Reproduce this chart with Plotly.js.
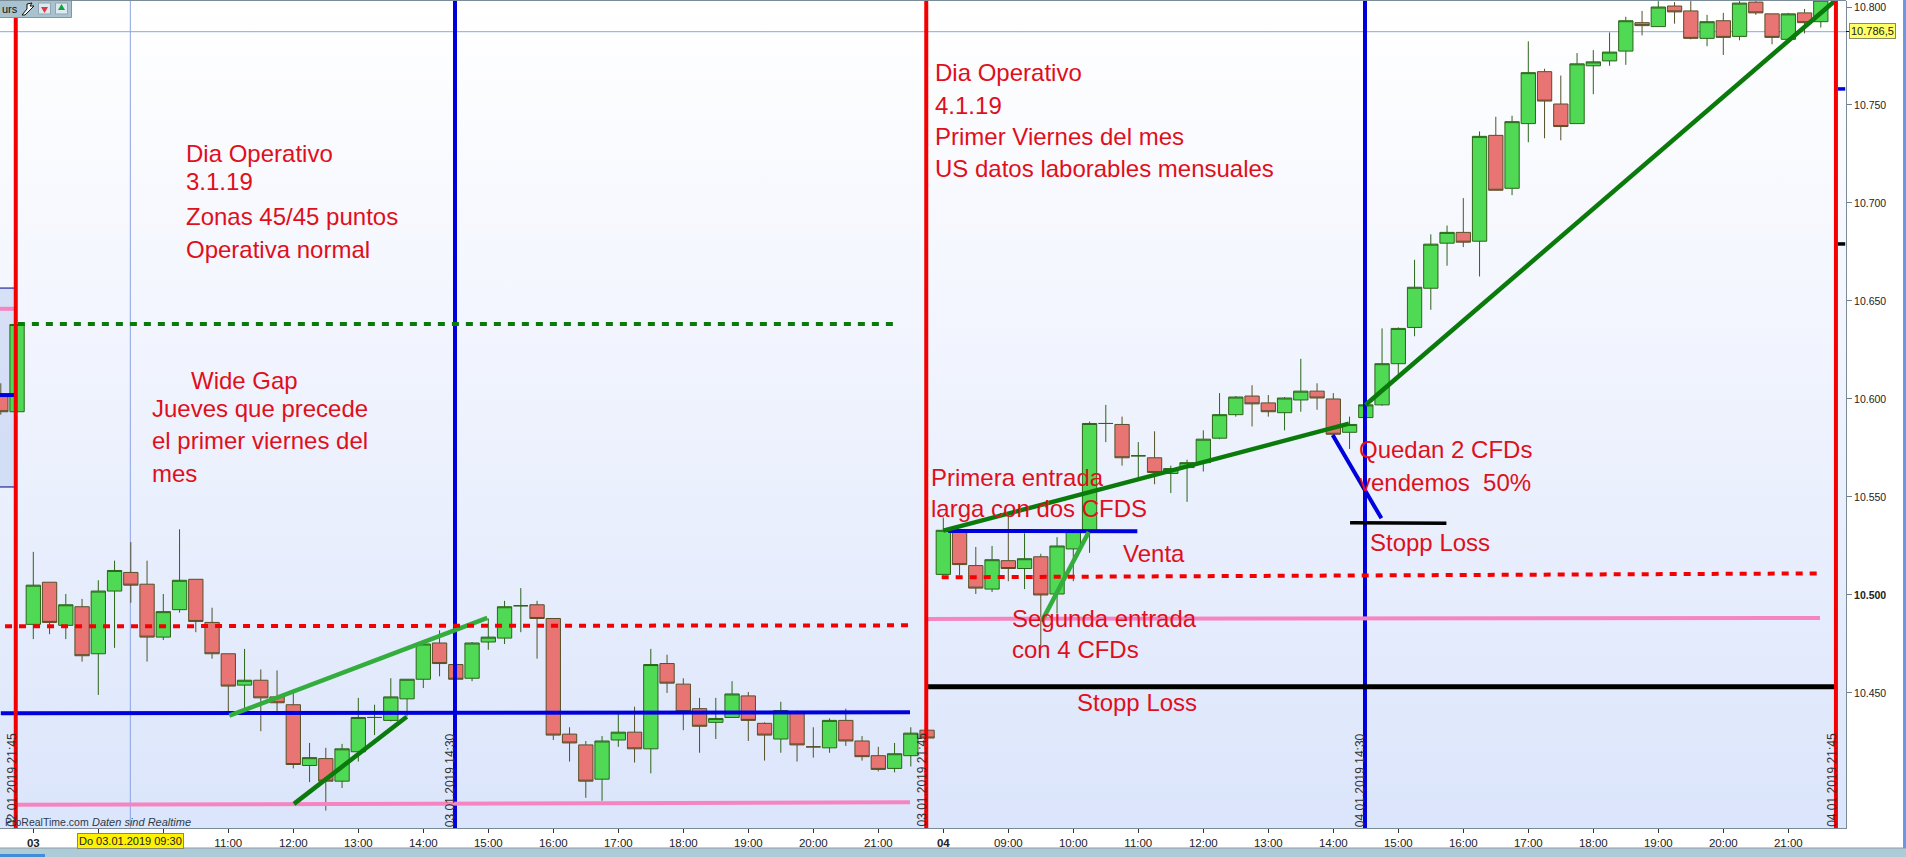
<!DOCTYPE html>
<html>
<head>
<meta charset="utf-8">
<script src="https://cdn.plot.ly/plotly-3.0.1.min.js"></script>
<style>
html,body{margin:0;padding:0;width:1906px;height:857px;overflow:hidden;background:#fff}
#bg{position:absolute;left:0;top:1px;width:1846px;height:827px;background:linear-gradient(#ffffff 0%,#f2f5fe 40%,#dbe5fb 100%)}
#chart{position:absolute;left:0;top:0;width:1906px;height:857px}
</style>
</head>
<body>
<div id="bg"></div>
<div id="chart"></div>
<script>
// 15-minute bars: the first two belong to 02.01.2019, then 03.01.2019 and 04.01.2019
const opens = [10602,10593.5,
 10485,10506.5,10484.5,10494,10470,10502,10511.5,10505.5,10478.5,10492.5,
 10508,10486,10470,10454,10456.5,10448,10444,10413,10416.5,10405,
 10420,10437.5,10436,10447,10457,10475.5,10464.5,10457.5,10476,10478,
 10494.5,10495,10488,10429,10423.5,10406,10426,10430,10421.5,10465,
 10454.5,10442,10435,10437.5,10448.5,10434.5,10426.5,10440,10422.5,10422,
 10436,10425.5,10418,10411.5,10418,10431,
 10510.5,10532.5,10515,10503,10517.5,10513.5,10519.5,10500.5,10523.5,10533,
 10587.5,10587,10571,10570,10562,10565,10567.5,10580,10592,10601.5,
 10598,10593,10599.5,10604,10600,10583,10590.5,10597,10618,10636.5,
 10656.5,10679.5,10685,10680.5,10734.5,10707.5,10740.5,10767,10750.5,10740.5,
 10770,10772.5,10777.5,10792,10790,10800.5,10798,10784,10793,10785,
 10802.5,10796.5,10783.5,10797,10792.5];
const highs = [10608,10638,
 10522,10506.5,10500.5,10498,10507.5,10517.5,10527,10517.5,10500.5,10533.5,
 10508,10493.5,10470,10472.5,10462,10461.5,10450,10424.5,10422,10424,
 10447.5,10444,10457.5,10457,10475,10482,10465,10476,10488,10497,
 10503.5,10497,10488,10432.5,10425.5,10428,10439.5,10443,10472.5,10469.5,
 10457.5,10447.5,10447.5,10456,10450.5,10435,10445.5,10441,10432.5,10437,
 10442,10428,10422.5,10424.5,10432.5,10431,
 10539.5,10533,10524.5,10525,10541.5,10531.5,10521,10529.5,10533,10588.5,
 10597,10591,10578,10583.5,10566,10569,10584,10603,10601.5,10607,
 10602,10601,10620.5,10608,10603,10591,10597,10636,10636.5,10671,
 10684,10688.5,10702.5,10736.5,10744,10744.5,10782.5,10768.5,10765,10776.5,
 10778,10787,10795,10798,10803,10802.5,10803,10796,10797,10803,
 10803,10796.5,10797,10799,10803.5];
const lows = [10592,10593.5,
 10477.5,10480,10477.5,10466,10449,10473,10496,10466,10477,10491,
 10481,10467.5,10439,10439.5,10430.5,10440.5,10411.5,10404.5,10390,10401.5,
 10415,10428.5,10435.5,10438,10452.5,10458.5,10456.5,10456,10472,10475,
 10481,10467.5,10426,10415,10396.5,10395,10422.5,10414.5,10409,10450,
 10431,10419.5,10426.5,10437.5,10425.5,10415.5,10419.5,10415,10417,10419.5,
 10423,10415.5,10410,10409.5,10412.5,10427,
 10510,10510,10500.5,10501.5,10507,10503,10473.5,10490.5,10507,10521.5,
 10578,10566,10560,10556.5,10552,10547.5,10563,10579.5,10591,10586,
 10591,10584,10593.5,10594.5,10581.5,10574.5,10590.5,10596.5,10612,10632,
 10645.5,10668,10677.5,10662.5,10706.5,10704,10731,10733,10732,10740.5,
 10755.5,10770,10770.5,10785.5,10790,10791.5,10783.5,10780,10775.5,10783,
 10796,10781,10783.5,10786.5,10789.5];
const closes = [10593.5,10638,
 10505,10486,10495,10469,10502,10512.5,10505,10478.5,10491.5,10507.5,
 10486.5,10470,10453.5,10456.5,10447.5,10445,10413.5,10417,10405,10421.5,
 10437.5,10437.5,10448,10457,10475,10465,10457,10475.5,10478.5,10494,
 10494.5,10488,10428.5,10424.5,10405,10425.5,10430,10421.5,10464.5,10455,
 10440.5,10433,10437,10449.5,10436,10428.5,10441,10423.5,10422.5,10436,
 10425.5,10417.5,10411,10419,10429.5,10427,
 10533,10515.5,10503.5,10518,10513.5,10518.5,10500,10525,10532.5,10587.5,
 10587.5,10570,10571,10562.5,10564.5,10567.5,10579.5,10592,10601,10597.5,
 10593.5,10600.5,10604,10600.5,10582,10587,10597,10618,10636,10657,
 10679,10685,10680,10734,10706.5,10741.5,10766.5,10752,10739,10771,
 10772,10777,10793,10790.5,10800,10797.5,10784,10792.5,10784.5,10802,
 10797,10784.5,10796.5,10792,10803.5];
const barIndex = opens.map((_, i) => i - 2);

const priceTicks = [10450,10500,10550,10600,10650,10700,10750,10800];
const priceLabels = ['10.450','<b>10.500</b>','10.550','10.600','10.650','10.700','10.750','10.800'];
const timeTicks = [0,4,8,12,16,20,24,28,32,36,40,44,48,52,56,60,64,68,72,76,80,84,88,92,96,100,104,108];
const timeLabels = ['<b>03</b>','','','11:00','12:00','13:00','14:00','15:00','16:00','17:00','18:00','19:00','20:00','21:00',
 '<b>04</b>','09:00','10:00','11:00','12:00','13:00','14:00','15:00','16:00','17:00','18:00','19:00','20:00','21:00'];

// drawn levels and trend lines: [bar0, price0, bar1, price1, colour, width]
const RED='#f50000', BLUE='#0000dc', PINK='#f585c0', BLACK='#000000', DKGREEN='#0a7a0a', LTGREEN='#33ad3c';
const solidLines = [
 [-1.07,10392.9,53.95,10394.2,PINK,4],
 [54.94,10487.8,109.95,10488.3,PINK,4],
 [-2.05,10646,-1.08,10646,PINK,4],
 [-2,10439.6,53.95,10440.1,BLUE,4],
 [-2.05,10602,-1.08,10602,BLUE,4],
 [56.3,10532.7,67.94,10532.5,BLUE,4],
 [79.96,10581.6,82.96,10539.1,BLUE,4],
 [54.94,10453.2,110.9,10453.2,BLACK,5],
 [81.03,10536.9,86.96,10536.6,BLACK,3.5],
 [12.06,10438.4,27.94,10488.3,LTGREEN,4.5],
 [62.05,10486.4,64.95,10532.1,LTGREEN,4.5],
 [16.04,10393.4,22.98,10437.9,DKGREEN,4.5],
 [56,10532.8,80.96,10587.4,DKGREEN,4.5],
 [81.97,10596.9,110.93,10803.6,DKGREEN,4.5],
 [111.05,10758.2,111.5,10758.2,BLUE,3.5],
 [111.05,10679.1,111.5,10679.1,BLACK,3.5]
];
const dashedLines = [
 [-0.95,10638.3,52.9,10638.3,DKGREEN],
 [-1.74,10484,53.87,10484.5,RED],
 [55.9,10509,109.82,10511,RED]
];
const redColumns = [-1.08,54.95,110.93];
const blueColumns = [25.95,81.95];
const crossBar = 5.97, crossPrice = 10787.4;

const dateStamps = [['02.01.2019 21:45',-1.32],['03.01.2019 14:30',25.65],['03.01.2019 21:45',54.66],['04.01.2019 14:30',81.65],['04.01.2019 21:45',110.68]];

// chart comments: [text, left pixel, centre pixel]
const comments = [
 ['Dia Operativo',185,153],['3.1.19',185,182],['Zonas 45/45 puntos',185,216],['Operativa normal',185,249],
 ['Wide Gap',190,380],['Jueves que precede',151,408],['el primer viernes del',151,440],['mes',151,473],
 ['Dia Operativo',934,73],['4.1.19',934,105],['Primer Viernes del mes',934,137],['US datos laborables mensuales',934,169],
 ['Primera entrada',930,477],['larga con dos CFDS',930,508],['Venta',1122,553],
 ['Segunda entrada',1011,618],['con 4 CFDs',1011,649],
 ['Quedan 2 CFDs',1358,450],['vendemos\u00a0 50%',1358,482],['Stopp Loss',1369,542],['Stopp Loss',1076,702]
];

const W=1906,H=857,PW=1846,PH=827,PT=1;
const px = x => x/PW;
const py = y => 1-(y-PT)/PH;
const FONT='"Liberation Sans",Arial,sans-serif';

const shapes = [];
shapes.push({type:'rect',layer:'below',xref:'x',yref:'y',x0:-3,x1:-1.08,y0:10555.1,y1:10656.6,fillcolor:'rgba(180,198,238,0.45)',line:{color:'#00008c',width:1}});
shapes.push({type:'line',layer:'below',xref:'x',yref:'paper',x0:crossBar,x1:crossBar,y0:0,y1:1,line:{color:'#8aa4e4',width:1}});
shapes.push({type:'line',layer:'below',xref:'paper',yref:'y',x0:0,x1:1,y0:crossPrice,y1:crossPrice,line:{color:'#8aa4e4',width:1}});
for(const b of blueColumns) shapes.push({type:'line',xref:'x',yref:'paper',x0:b,x1:b,y0:0,y1:1,line:{color:BLUE,width:4}});
for(const l of solidLines) shapes.push({type:'line',xref:'x',yref:'y',x0:l[0],y0:l[1],x1:l[2],y1:l[3],line:{color:l[4],width:l[5]}});
for(const l of dashedLines) shapes.push({type:'line',xref:'x',yref:'y',x0:l[0],y0:l[1],x1:l[2],y1:l[3],line:{color:l[4],width:4,dash:'7px,7px'}});
for(const b of redColumns) shapes.push({type:'line',xref:'x',yref:'paper',x0:b,x1:b,y0:0,y1:1,line:{color:RED,width:4}});
const pxRect=(x0,y0,x1,y1,fill,lineColor)=>({type:'rect',xref:'paper',yref:'paper',x0:px(x0),x1:px(x1),y0:py(y1),y1:py(y0),fillcolor:fill,line:{color:lineColor||fill,width:lineColor?1:0}});
// tool buttons top-left
shapes.push(pxRect(-2,-2,71.5,17.5,'#a8c2cf','#7d97a6'));
shapes.push(pxRect(38.5,3,50.5,14,'#dfe8ef','#8ea6b4'));
shapes.push(pxRect(55.5,3,67.5,14,'#dfe8ef','#8ea6b4'));
shapes.push({type:'path',xref:'paper',yref:'paper',path:`M${px(41)},${py(7)} L${px(48)},${py(7)} L${px(44.5)},${py(13)} Z`,fillcolor:'#e0383e',line:{width:0}});
shapes.push({type:'path',xref:'paper',yref:'paper',path:`M${px(58)},${py(10)} L${px(65)},${py(10)} L${px(61.5)},${py(4)} Z`,fillcolor:'#0aa83c',line:{width:0}});
shapes.push({type:'path',xref:'paper',yref:'paper',path:`M${px(22)},${py(15)} L${px(27)},${py(9)} L${px(27)},${py(4)} L${px(32)},${py(3)} L${px(30)},${py(6)} L${px(34)},${py(6)} L${px(30)},${py(10)} L${px(25)},${py(15)} Z`,fillcolor:'#ffffff',line:{color:'#111',width:1}});
// window chrome
shapes.push(pxRect(0,848,W,857,'#aecbd8'));
shapes.push({type:'line',xref:'paper',yref:'paper',x0:0,x1:px(W),y0:py(848),y1:py(848),line:{color:'#8c9ba6',width:1}});
shapes.push(pxRect(0,854,45,857,'#3f8fd8'));
shapes.push(pxRect(1903,0,1906,848,'#6a98e4'));
shapes.push({type:'line',xref:'paper',yref:'paper',x0:0,x1:px(1846),y0:py(0.5),y1:py(0.5),line:{color:'#7b8c99',width:1}});
shapes.push({type:'line',xref:'paper',yref:'paper',x0:px(1846),x1:px(1851),y0:py(31.5),y1:py(31.5),line:{color:'#111',width:1}});

const annotations = [];
for(const c of comments) annotations.push({xref:'paper',yref:'paper',x:px(c[1]),y:py(c[2]),xanchor:'left',yanchor:'middle',text:c[0],showarrow:false,borderpad:0,font:{family:FONT,size:24,color:'#e00f1c'}});
for(const d of dateStamps) annotations.push({xref:'x',yref:'paper',x:d[1],y:0,xanchor:'center',yanchor:'bottom',text:d[0],textangle:-90,showarrow:false,borderpad:0,font:{family:FONT,size:12,color:'#333'}});
annotations.push({xref:'paper',yref:'paper',x:px(4),y:py(822),xanchor:'left',yanchor:'middle',text:'ProRealTime.com',showarrow:false,borderpad:0,font:{family:FONT,size:10.5,color:'#2a3a4a'}});
annotations.push({xref:'paper',yref:'paper',x:px(91),y:py(822),xanchor:'left',yanchor:'middle',text:'<i>Daten sind Realtime</i>',showarrow:false,borderpad:0,font:{family:FONT,size:11,color:'#2a3a4a'}});
annotations.push({xref:'paper',yref:'paper',x:px(1),y:py(9),xanchor:'left',yanchor:'middle',text:'urs',showarrow:false,borderpad:0,font:{family:FONT,size:11,color:'#111'}});
annotations.push({xref:'paper',yref:'paper',x:px(130.7),y:py(840.5),xanchor:'center',yanchor:'middle',text:'Do 03.01.2019 09:30',showarrow:false,bgcolor:'#fff200',bordercolor:'#8a8a60',borderwidth:1,borderpad:1,font:{family:FONT,size:11,color:'#222'}});
annotations.push({xref:'paper',yref:'paper',x:px(1873),y:py(31),xanchor:'center',yanchor:'middle',text:'10.786,5',showarrow:false,bgcolor:'#ffff66',bordercolor:'#8a8a60',borderwidth:1,borderpad:1,font:{family:FONT,size:11,color:'#222'}});

const candles = {
 type:'candlestick',x:barIndex,open:opens,high:highs,low:lows,close:closes,
 whiskerwidth:0,hoverinfo:'skip',
 increasing:{line:{color:'#2c6418',width:1},fillcolor:'#4fd955'},
 decreasing:{line:{color:'#565028',width:1},fillcolor:'#e87474'}
};
const layout = {
 width:W,height:H,autosize:false,
 margin:{l:0,r:W-PW,t:PT,b:H-PT-PH,pad:0,autoexpand:false},
 paper_bgcolor:'rgba(0,0,0,0)',plot_bgcolor:'rgba(0,0,0,0)',
 showlegend:false,dragmode:false,boxgap:0.12,boxgroupgap:0,
 font:{family:FONT,size:11,color:'#222'},
 xaxis:{type:'linear',range:[-2.05,111.55],rangeslider:{visible:false},showgrid:false,zeroline:false,
  tickmode:'array',tickvals:timeTicks,ticktext:timeLabels,ticks:'outside',ticklen:4,tickcolor:'#333',tickwidth:1,
  showline:true,linecolor:'#7b8a97',linewidth:1,tickfont:{family:FONT,size:11.5,color:'#222'},tickangle:0,automargin:false},
 yaxis:{side:'right',range:[10381.1,10803.06],showgrid:false,zeroline:false,
  tickmode:'array',tickvals:priceTicks,ticktext:priceLabels,ticks:'outside',ticklen:5,tickcolor:'#6f7f8c',tickwidth:1,
  showline:true,linecolor:'#7b8a97',linewidth:1,tickfont:{family:FONT,size:10.5,color:'#222'},automargin:false},
 shapes,annotations
};
Plotly.newPlot('chart',[candles],layout,{staticPlot:true,displayModeBar:false,responsive:false});
</script>
</body>
</html>
